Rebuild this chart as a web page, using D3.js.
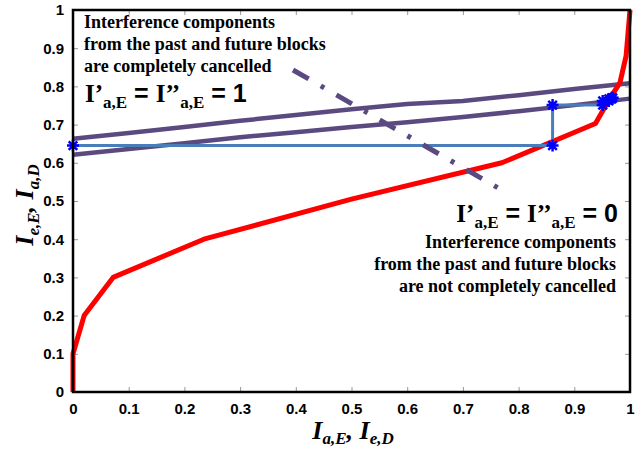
<!DOCTYPE html>
<html lang="en">
<head>
<meta charset="utf-8">
<script src="https://d3js.org/d3.v7.min.js"></script>
<style>
  body { margin: 0; background: #fff; }
  svg { display: block; }
  .tick text { font-family: "Liberation Sans", Arial, sans-serif; font-weight: bold; font-size: 15px; fill: #000; }
  .tick line { stroke: #999; }
  .note { font-family: "Liberation Serif", "Times New Roman", serif; font-weight: bold; font-size: 18px; }
  .big { font-family: "Liberation Serif", "Times New Roman", serif; font-weight: bold; font-size: 25px; }
  .sans { font-family: "Liberation Sans", Arial, sans-serif; }
  .axtitle { font-family: "Liberation Serif", "Times New Roman", serif; font-weight: bold; font-style: italic; font-size: 26px; }
</style>
</head>
<body>
<script>
// red curve
var redX = [0, 0, 0.02, 0.072, 0.235, 0.5, 0.77, 0.938, 0.962, 0.982, 0.993, 1.0];
var redY = [0, 0.1, 0.2, 0.3, 0.4, 0.505, 0.6, 0.703, 0.764, 0.81, 0.88, 1.0];

// two purple curves
var purX = [0, 0.1, 0.2, 0.3, 0.4, 0.5, 0.6, 0.7, 0.8, 0.9, 1.0];
var purUpper = [0.663, 0.678, 0.694, 0.71, 0.725, 0.74, 0.754, 0.762, 0.777, 0.793, 0.808];
var purLower = [0.621, 0.636, 0.651, 0.667, 0.68, 0.694, 0.706, 0.72, 0.735, 0.751, 0.768];

// blue staircase (with * markers)
var blueX = [0, 0.861, 0.861, 0.951, 0.951, 0.962, 0.962, 0.967, 0.967, 0.969];
var blueY = [0.645, 0.645, 0.751, 0.751, 0.762, 0.762, 0.767, 0.767, 0.77, 0.77];

// dash-dot separator
var sepX = [0.395, 0.767];
var sepY = [0.843, 0.531];

var ticks = [0, 0.1, 0.2, 0.3, 0.4, 0.5, 0.6, 0.7, 0.8, 0.9, 1];
var tickLabels = ["0", "0.1", "0.2", "0.3", "0.4", "0.5", "0.6", "0.7", "0.8", "0.9", "1"];

var width = 644, height = 449;
var svg = d3.select("body").append("svg").attr("width", width).attr("height", height);

var x = d3.scaleLinear().domain([0, 1]).range([73, 630]);
var y = d3.scaleLinear().domain([0, 1]).range([392, 10]);

var fmt = function(d, i) { return tickLabels[i]; };

svg.append("g").attr("transform", "translate(0,392)")
  .call(d3.axisBottom(x).tickValues(ticks).tickFormat(fmt).tickSize(-5).tickPadding(11))
  .call(function(g) { g.select(".domain").remove(); });
svg.append("g").attr("transform", "translate(0,10)")
  .call(d3.axisTop(x).tickValues(ticks).tickFormat("").tickSize(-5))
  .call(function(g) { g.select(".domain").remove(); });
svg.append("g").attr("transform", "translate(73,0)")
  .call(d3.axisLeft(y).tickValues(ticks).tickFormat(fmt).tickSize(-5).tickPadding(9))
  .call(function(g) { g.select(".domain").remove(); });
svg.append("g").attr("transform", "translate(630,0)")
  .call(d3.axisRight(y).tickValues(ticks).tickFormat("").tickSize(-5))
  .call(function(g) { g.select(".domain").remove(); });

var line = d3.line().x(function(d) { return x(d[0]); }).y(function(d) { return y(d[1]); });

// purple
[purUpper, purLower].forEach(function(s) {
  svg.append("path").datum(d3.zip(purX, s)).attr("d", line)
    .attr("fill", "none").attr("stroke", "#5b4a80").attr("stroke-width", 4.5);
});

// red
svg.append("path").datum(d3.zip(redX, redY)).attr("d", line)
  .attr("fill", "none").attr("stroke", "#ff0000").attr("stroke-width", 5)
  .attr("stroke-linejoin", "round");

// blue
var bluePts = d3.zip(blueX, blueY);
svg.append("path").datum(bluePts).attr("d", line)
  .attr("fill", "none").attr("stroke", "#4a7ebb").attr("stroke-width", 3);
var star = "M-6,0L6,0M0,-6L0,6M-4.3,-4.3L4.3,4.3M-4.3,4.3L4.3,-4.3";
svg.append("g").selectAll("path").data(bluePts).join("path")
  .attr("transform", function(d) { return "translate(" + x(d[0]) + "," + y(d[1]) + ")"; })
  .attr("d", star).attr("fill", "none").attr("stroke", "#0000ff").attr("stroke-width", 2.5);

// dash-dot
svg.append("path").datum(d3.zip(sepX, sepY)).attr("d", line)
  .attr("fill", "none").attr("stroke", "#5b4a80").attr("stroke-width", 5)
  .attr("stroke-dasharray", "18,14,4,14");

// frame
svg.append("rect").attr("x", 73).attr("y", 10).attr("width", 557).attr("height", 382)
  .attr("fill", "none").attr("stroke", "#000").attr("stroke-width", 2.5);

// notes top-left
var noteL = ["Interference components", "from the past and future blocks", "are completely cancelled"];
svg.append("g").selectAll("text").data(noteL).join("text").attr("class", "note")
  .attr("x", 84).attr("y", function(d, i) { return 28 + i * 22; }).text(function(d) { return d; });

function formula(tx, ty, anchor, val) {
  var t = svg.append("text").attr("class", "big").attr("x", tx).attr("y", ty).attr("text-anchor", anchor);
  t.append("tspan").text("I\u2019");
  t.append("tspan").attr("font-size", 17).attr("dy", 6).text("a,E");
  t.append("tspan").attr("class", "sans").attr("dy", -6).text(" = ");
  t.append("tspan").text("I\u2019\u2019");
  t.append("tspan").attr("font-size", 17).attr("dy", 6).text("a,E");
  t.append("tspan").attr("class", "sans").attr("dy", -6).text(" = " + val);
}
formula(85, 102, "start", "1");
formula(618, 222, "end", "0");

var noteR = ["Interference components", "from the past and future blocks", "are not completely cancelled"];
svg.append("g").selectAll("text").data(noteR).join("text").attr("class", "note")
  .attr("x", 616).attr("text-anchor", "end")
  .attr("y", function(d, i) { return 248 + i * 22; }).text(function(d) { return d; });

// axis titles
var xt = svg.append("text").attr("class", "axtitle").attr("x", 353).attr("y", 439).attr("text-anchor", "middle");
xt.append("tspan").text("I");
xt.append("tspan").attr("font-size", 17).attr("dy", 5).text("a,E");
xt.append("tspan").attr("dy", -5).text(", I");
xt.append("tspan").attr("font-size", 17).attr("dy", 5).text("e,D");

var yt = svg.append("text").attr("class", "axtitle").attr("text-anchor", "middle")
  .attr("transform", "translate(33,205) rotate(-90)");
yt.append("tspan").text("I");
yt.append("tspan").attr("font-size", 17).attr("dy", 6).text("e,E");
yt.append("tspan").attr("dy", -6).text(", I");
yt.append("tspan").attr("font-size", 17).attr("dy", 6).text("a,D");
</script>
</body>
</html>
